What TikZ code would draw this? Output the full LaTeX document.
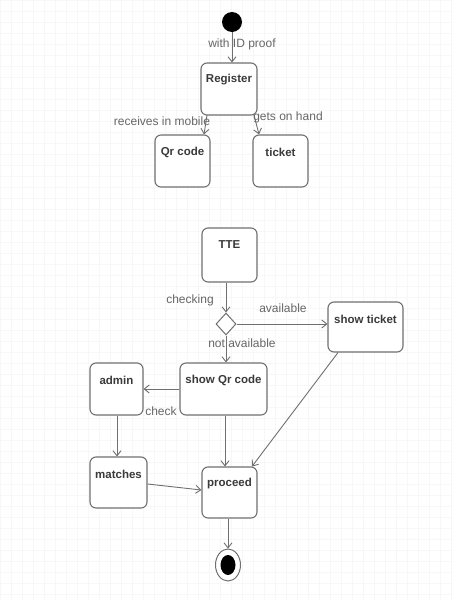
\documentclass[tikz,border=0pt]{standalone}
\usepackage{fontspec}
\setmainfont{Liberation Sans}
\usetikzlibrary{shapes.geometric,arrows.meta}
\definecolor{edge}{HTML}{707070}
\definecolor{txt}{HTML}{3A3A3A}
\definecolor{lbl}{HTML}{666666}
\tikzset{
  state/.style={draw=edge, line width=1.1pt, rounded corners=6pt, fill=white, inner sep=0pt},
  stxt/.style={font=\fontsize{11.5}{13}\selectfont\bfseries, text=txt, inner sep=0pt},
  lab/.style={font=\fontsize{12}{14}\selectfont, text=lbl, inner sep=0pt},
  conn/.style={draw=edge, line width=0.9pt, -{Straight Barb[length=5pt,width=8pt]}},
}
\begin{document}
\begin{tikzpicture}[x=1pt,y=-1pt]
\useasboundingbox (0,0) rectangle (451,600);
\fill[white] (0,0) rectangle (451,600);
\foreach \i in {0,11,...,451} {\draw[black!3, line width=0.4pt] (\i,0) -- (\i,600);}
\foreach \j in {0,11,...,600} {\draw[black!3, line width=0.4pt] (0,\j) -- (451,\j);}
% boxes: corners
\newcommand{\stbox}[6]{%
  \node[state, minimum width=#4-#2, minimum height=#5-#3] (#1) at ({(#2+#4)/2},{(#3+#5)/2}) {};
  \node[stxt] (#1t) at ({(#2+#4)/2},{#3+17}) {#6};
}
\stbox{reg}{201}{63}{257}{115}{Register}
\stbox{qr}{155}{135}{210}{187}{Qr code}
\stbox{tk}{253}{135}{308}{187}{ticket}
\stbox{tte}{202}{228}{257}{282}{TTE}
\stbox{st}{328}{302}{403}{352}{show ticket}
\stbox{admin}{90}{363}{143}{415}{admin}
\stbox{sqr}{180}{363}{267}{415}{show Qr code}
\stbox{match}{90}{457}{147}{508}{matches}
\stbox{proc}{202}{467}{257}{518}{proceed}
% start
\node[circle, fill=black, minimum size=20pt, inner sep=0pt] (start) at (232,22) {};
% decision
\node[diamond, draw=edge, fill=white, line width=1pt, minimum width=20pt, minimum height=22pt, inner sep=0pt] (dec) at (226,324) {};
% end
\node[ellipse, draw=edge, fill=white, line width=1pt, minimum width=25pt, minimum height=32pt, inner sep=0pt] (endo) at (228,565) {};
\node[ellipse, fill=black, minimum width=15pt, minimum height=20pt, inner sep=0pt] (endi) at (228,565) {};
% connectors
\coordinate (regbl) at (207,115);
\coordinate (regbr) at (254,115);
\draw[conn] (start) -- (reg.north -| start);
\draw[conn] (regbl) -- (qr.north -| 204,0);
\draw[conn] (regbr) -- (tk.north -| 259,0);
\draw[conn] (tte.south -| dec) -- (dec.north);
\draw[conn] (dec.east) -- (st.west |- dec.east);
\draw[conn] (dec.south) -- (sqr.north -| dec);
\draw[conn] (sqr.west |- 0,389) -- (admin.east |- 0,389);
\draw[conn] (admin.south -| 117,0) -- (match.north -| 117,0);
\draw[conn] (sqr.south -| 225,0) -- (proc.north -| 225,0);
\draw[conn] (match.east |- 0,484) -- (proc.west |- 0,490);
\draw[conn] (st.south -| 338,0) -- (proc.north -| 252,0);
\draw[conn] (proc.south -| endo) -- (endo.north);
% labels
\node[lab] (l1) at (242,44) {with ID proof};
\node[lab] (l2) at (162,121) {receives in mobile};
\node[lab] (l3) at (288,117) {gets on hand};
\node[lab] (l4) at (190,300) {checking};
\node[lab] (l5) at (283,308) {available};
\node[lab] (l6) at (242,343) {not available};
\node[lab] (l7) at (161,411) {check};
\end{tikzpicture}
\end{document}
